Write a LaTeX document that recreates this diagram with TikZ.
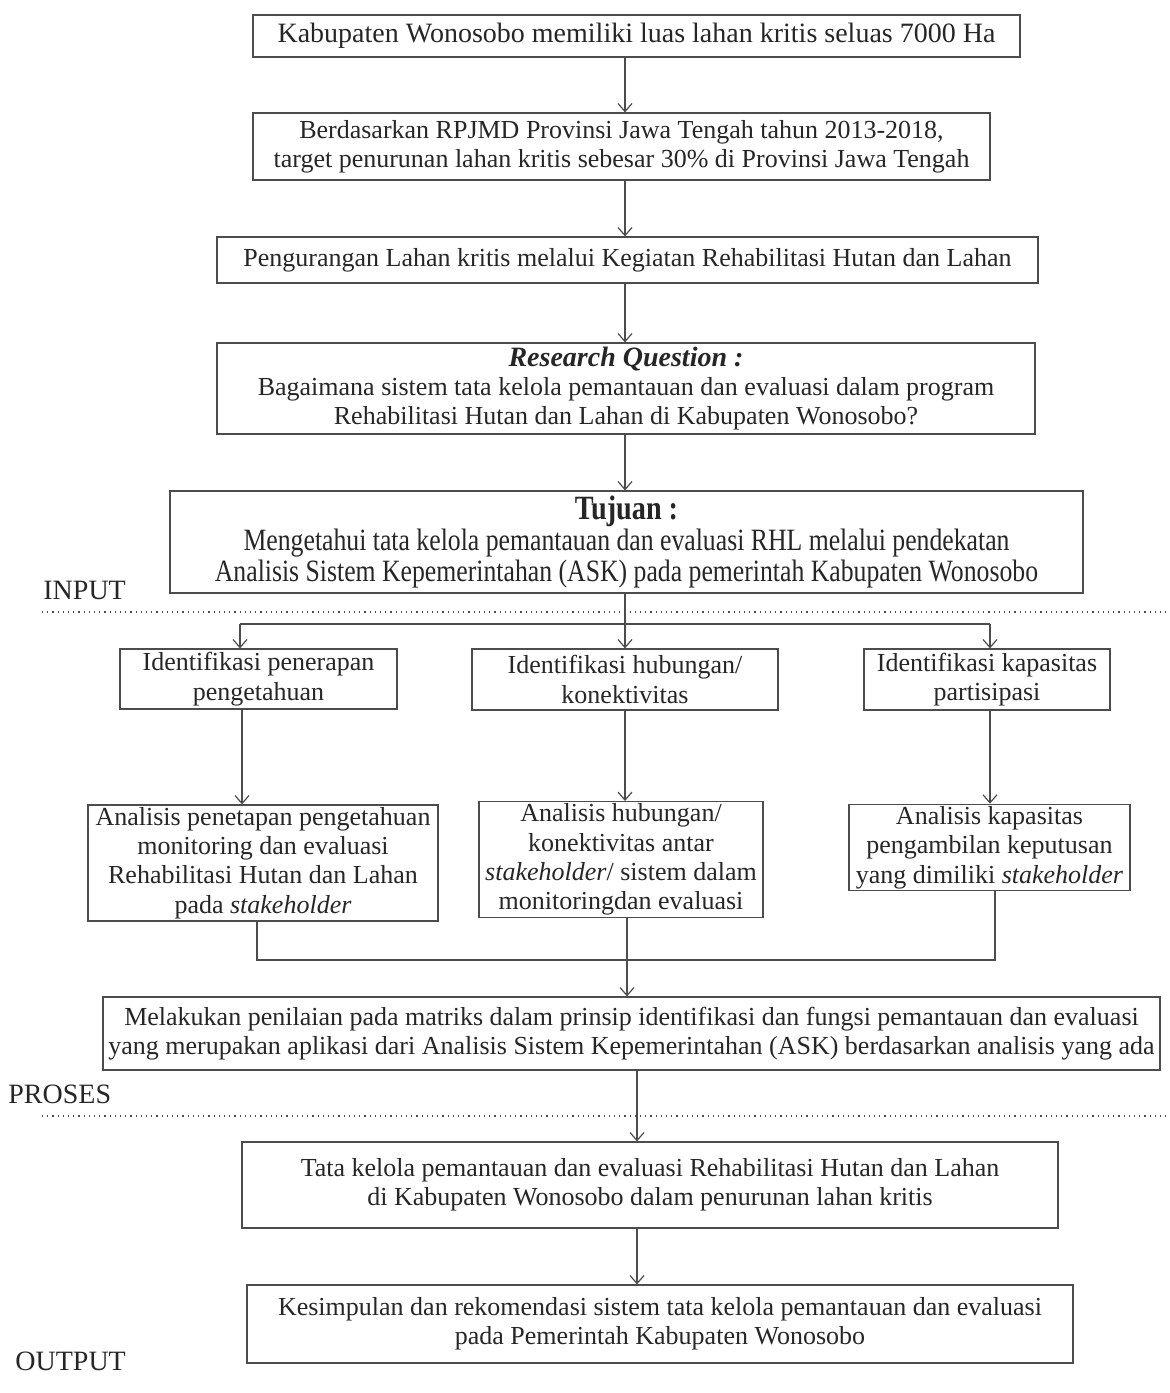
\documentclass[tikz,border=0pt]{standalone}
\usepackage{fontspec}
\setmainfont{Liberation Serif}
\newfontfamily\narrowserif[FakeStretch=0.83]{Liberation Serif}
\usetikzlibrary{arrows.meta}
\tikzstyle{box} = [draw=black!70, line width=0.6pt, align=center, inner sep=1pt, text=black!85]
\tikzstyle{lbl} = [inner sep=0pt, anchor=west, text=black!85, font=\fontsize{14pt}{15pt}\selectfont]
\tikzstyle{l} = [dotted, line width=0.6pt, draw=black!70]
\tikzstyle{wire} = [draw=black!70, line width=0.6pt]
\tikzstyle{arr} = [wire, -{Straight Barb[length=4pt, width=7pt]}]
\newcommand{\headsize}{\fontsize{14pt}{15pt}\selectfont}

\begin{document}
\begin{tikzpicture}[x=0.5pt, y=-0.5pt, font=\fontsize{13pt}{14.7pt}\selectfont]
    \useasboundingbox (0,0) rectangle (1170,1393);

    % chain on top
    \node[box, minimum width=383.5pt, minimum height=21pt, font=\headsize] (b1) at (636.5,36)
        {Kabupaten Wonosobo memiliki luas lahan kritis seluas 7000 Ha};
    \node[box, minimum width=368.5pt, minimum height=33.5pt] (b2) at (621.5,146.5)
        {Berdasarkan RPJMD Provinsi Jawa Tengah tahun 2013-2018,\\
         target penurunan lahan kritis sebesar 30\% di Provinsi Jawa Tengah};
    \node[box, minimum width=410.5pt, minimum height=23pt] (b3) at (627.5,260)
        {Pengurangan Lahan kritis melalui Kegiatan Rehabilitasi Hutan dan Lahan};
    \node[box, minimum width=409pt, minimum height=45.5pt] (b4) at (626,388.5)
        {{\headsize\textbf{\textit{Research Question :}}}\\
         Bagaimana sistem tata kelola pemantauan dan evaluasi dalam program\\
         Rehabilitasi Hutan dan Lahan di Kabupaten Wonosobo?};
    \node[box, minimum width=456.5pt, minimum height=51pt,
          font=\narrowserif\fontsize{15.5pt}{15.5pt}\selectfont] (b5) at (626.5,542)
        {{\fontsize{17pt}{17pt}\selectfont\textbf{Tujuan :}}\\
         Mengetahui tata kelola pemantauan dan evaluasi RHL melalui pendekatan\\
         Analisis Sistem Kepemerintahan (ASK) pada pemerintah Kabupaten Wonosobo};

    \coordinate (spine) at (625,0);
    \foreach \a/\b in {b1/b2, b2/b3, b3/b4, b4/b5}
        \draw[arr] (\a.south -| spine) -- (\b.north -| spine);

    % section labels
    \node[lbl] (input) at (43,590) {INPUT};
    \node[lbl] (proses) at (8,1094) {PROSES};
    \node[lbl] (output) at (15,1361) {OUTPUT};
    \coordinate (inL) at (42,612);   \coordinate (inR) at (1170,612);
    \coordinate (prL) at (42,1116);  \coordinate (prR) at (1170,1116);
    \draw[l] (inL) -- (inR);
    \draw[l] (prL) -- (prR);

    % three branches
    \node[box, minimum width=138.5pt, minimum height=30pt] (i1) at (258.5,679)
        {Identifikasi penerapan\\ pengetahuan};
    \node[box, minimum width=153pt, minimum height=30.5pt] (i2) at (625,679.5)
        {Identifikasi hubungan/\\ konektivitas};
    \node[box, minimum width=123pt, minimum height=30.5pt] (i3) at (987,679.5)
        {Identifikasi kapasitas\\ partisipasi};

    \node[box, minimum width=175pt, minimum height=58pt] (a1) at (263,863)
        {Analisis penetapan pengetahuan\\ monitoring dan evaluasi\\
         Rehabilitasi Hutan dan Lahan\\ pada \textit{stakeholder}};
    \node[box, minimum width=142pt, minimum height=56.5pt] (a2) at (621,859.5)
        {Analisis hubungan/\\ konektivitas antar\\
         \textit{stakeholder}/ sistem dalam\\ monitoringdan evaluasi};
    \node[box, minimum width=140.5pt, minimum height=42.5pt] (a3) at (989.5,847.5)
        {Analisis kapasitas\\ pengambilan keputusan\\ yang dimiliki \textit{stakeholder}};

    \coordinate (fork) at (625,624);
    \coordinate (forkL) at (240,624);
    \coordinate (forkR) at (990,624);
    \draw[wire] (b5.south -| fork) -- (fork);
    \draw[wire] (forkL) -- (forkR);
    \foreach \c/\n in {forkL/i1, fork/i2, forkR/i3}
        \draw[arr] (\c) -- (\n.north -| \c);
    \foreach \x/\a/\b in {242/i1/a1, 625/i2/a2, 990/i3/a3} {
        \coordinate (d) at (\x,0);
        \draw[arr] (\a.south -| d) -- (\b.north -| d);
    }

    % bottom part
    \node[box, minimum width=528.5pt, minimum height=36.5pt] (m) at (631.5,1033.5)
        {Melakukan penilaian pada matriks dalam prinsip identifikasi dan fungsi pemantauan dan evaluasi\\
         yang merupakan aplikasi dari Analisis Sistem Kepemerintahan (ASK) berdasarkan analisis yang ada};
    \node[box, minimum width=408pt, minimum height=43pt] (t) at (650,1185)
        {Tata kelola pemantauan dan evaluasi Rehabilitasi Hutan dan Lahan\\
         di Kabupaten Wonosobo dalam penurunan lahan kritis};
    \node[box, minimum width=413pt, minimum height=39pt] (k) at (660,1324)
        {Kesimpulan dan rekomendasi sistem tata kelola pemantauan dan evaluasi\\
         pada Pemerintah Kabupaten Wonosobo};

    \coordinate (jL) at (257,960);
    \coordinate (jR) at (995,960);
    \draw[wire] (a1.south -| jL) -- (jL) -- (jR) -- (a3.south -| jR);
    \coordinate (mid) at (627,0);
    \draw[arr] (a2.south -| mid) -- (m.north -| mid);
    \coordinate (low) at (637,0);
    \draw[arr] (m.south -| low) -- (t.north -| low);
    \draw[arr] (t.south -| low) -- (k.north -| low);
\end{tikzpicture}
\end{document}
